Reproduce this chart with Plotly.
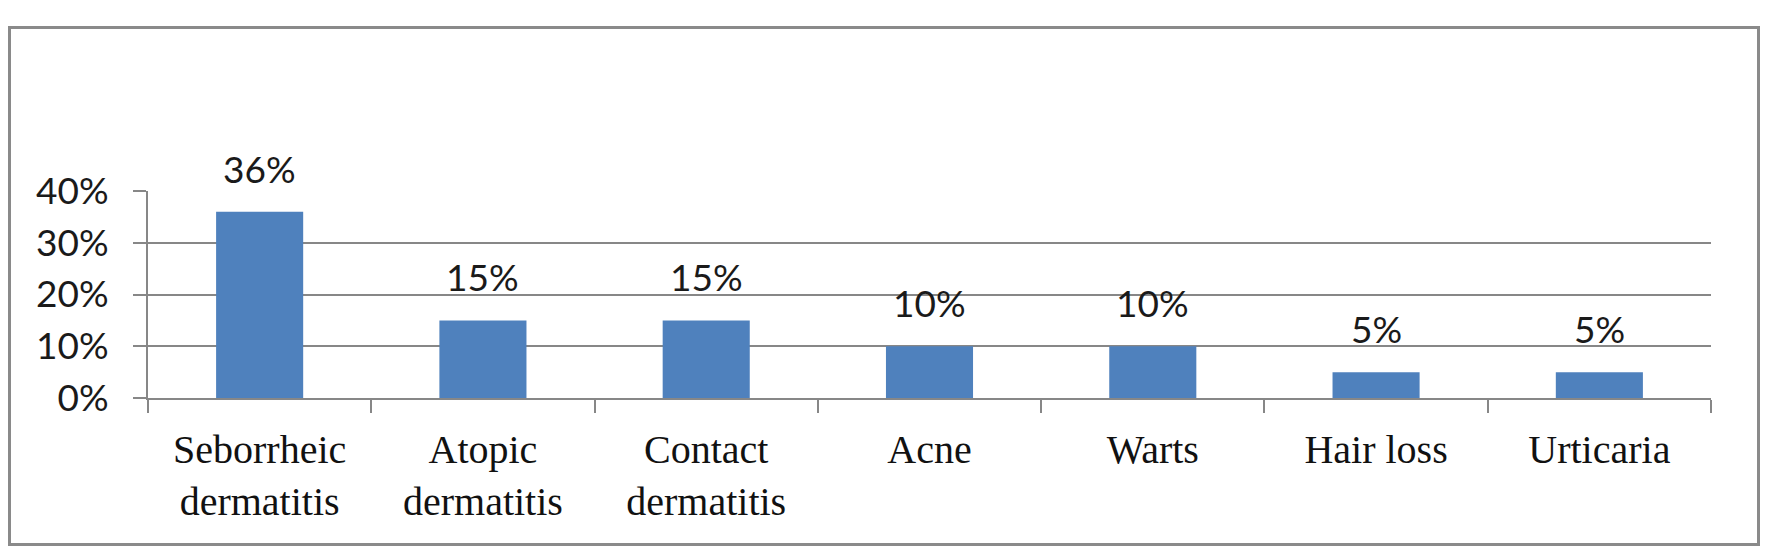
import plotly.graph_objects as go

categories = ["Seborrheic<br>dermatitis", "Atopic<br>dermatitis", "Contact<br>dermatitis",
              "Acne", "Warts", "Hair loss", "Urticaria"]
values = [0.36, 0.15, 0.15, 0.10, 0.10, 0.05, 0.05]
labels = ["36%", "15%", "15%", "10%", "10%", "5%", "5%"]
y_ticks = [0, 0.1, 0.2, 0.3, 0.4]
y_tick_labels = ["0%", "10%", "20%", "30%", "40%"]

W, H = 1772, 557
L, R, T, B = 148, 61, 191, 159
pw, ph = W - L - R, H - T - B

fig = go.Figure()
fig.add_trace(go.Bar(
    x=categories, y=values, width=0.39,
    marker=dict(color="#4F81BD", line=dict(width=0)),
    hoverinfo="skip",
))

for c, v, t in zip(categories, values, labels):
    fig.add_annotation(x=c, y=v, text=t, showarrow=False, yanchor="bottom",
                       yshift=19, font=dict(family="Lato", size=37, color="#1a1a1a"))

def px_to_paper_x(p):
    return (p - L) / pw

def px_to_paper_y(p):
    return (H - B - p) / ph

fig.add_shape(type="rect", xref="paper", yref="paper",
              x0=px_to_paper_x(9.5), x1=px_to_paper_x(1758.5),
              y0=px_to_paper_y(544.5), y1=px_to_paper_y(27.5),
              line=dict(color="#8a8a8a", width=3), fillcolor="rgba(0,0,0,0)", layer="below")

fig.update_layout(
    width=W, height=H,
    margin=dict(l=L, r=R, t=T, b=B, pad=0),
    paper_bgcolor="white", plot_bgcolor="white",
    showlegend=False, bargap=0.61,
    xaxis=dict(
        type="category", showline=True, linecolor="#878787", linewidth=2,
        ticks="outside", tickson="boundaries", ticklen=13, tickcolor="#878787", tickwidth=2,
        tickfont=dict(family="Liberation Serif", size=40, color="#111111"),
        showgrid=False, zeroline=False, ticklabelstandoff=15,
    ),
    yaxis=dict(
        range=[0, 0.4], tickvals=y_ticks, ticktext=y_tick_labels,
        showline=True, linecolor="#878787", linewidth=2,
        ticks="outside", ticklen=13, tickcolor="#878787", tickwidth=2,
        showgrid=True, gridcolor="#878787", gridwidth=2, zeroline=False,
        tickfont=dict(family="Lato", size=37, color="#1a1a1a"),
        ticklabelstandoff=17,
    ),
)

fig.write_html("out.html", config={"displayModeBar": False},
               post_script="document.body.style.margin='0';document.body.style.overflow='hidden';")
